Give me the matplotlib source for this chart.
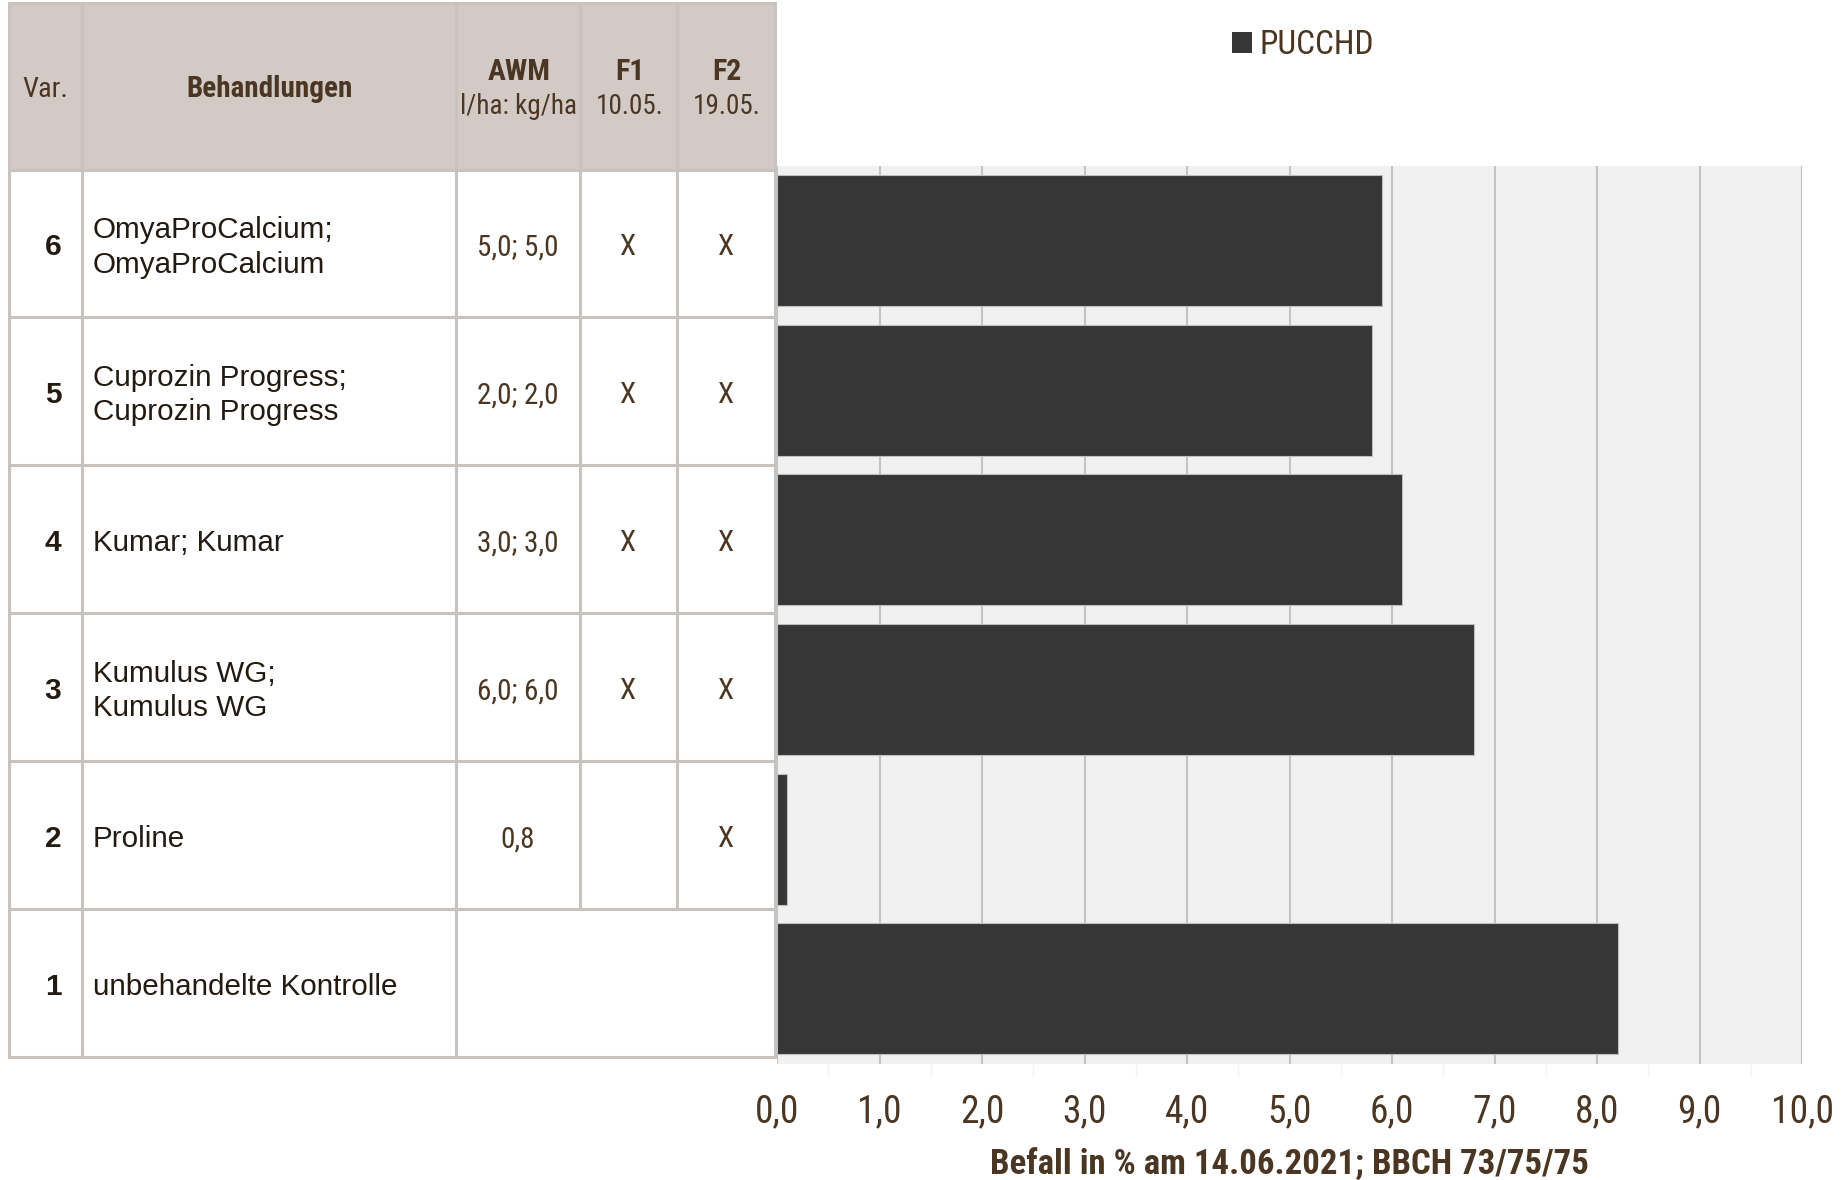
import matplotlib.pyplot as plt
from matplotlib.patches import Rectangle, Patch
from matplotlib.ticker import MultipleLocator, FuncFormatter

# Tabellen- und Balkendaten (von oben nach unten)
var_nr = ['6', '5', '4', '3', '2', '1']
behandlungen = ['OmyaProCalcium;\nOmyaProCalcium', 'Cuprozin Progress;\nCuprozin Progress',
                'Kumar; Kumar', 'Kumulus WG;\nKumulus WG', 'Proline', 'unbehandelte Kontrolle']
awm = ['5,0; 5,0', '2,0; 2,0', '3,0; 3,0', '6,0; 6,0', '0,8', '']
f1 = ['X', 'X', 'X', 'X', '', '']
f2 = ['X', 'X', 'X', 'X', 'X', '']
befall = [5.9, 5.8, 6.1, 6.8, 0.1, 8.2]
serie = 'PUCCHD'
x_ticks = [0, 1, 2, 3, 4, 5, 6, 7, 8, 9, 10]
x_label = 'Befall in % am 14.06.2021; BBCH 73/75/75'

narrow = ['Liberation Sans Narrow', 'Arial Narrow', 'Roboto Condensed', 'Archivo Narrow',
          'PT Sans Narrow', 'DejaVu Sans']
normal = ['Liberation Sans', 'Arimo', 'Arial', 'DejaVu Sans']
braun = '#4a3623'
dunkel = '#231a12'
linie = '#c9c3bf'
kopf_bg = '#d3cac6'

W, H = 1846, 1180
fig = plt.figure(figsize=(W / 100, H / 100), dpi=100)

# --- Diagramm ---
x0, x1 = 777, 1802
y0, y1 = 165.6, 1063.7
ax = fig.add_axes([x0 / W, 1 - y1 / H, (x1 - x0) / W, (y1 - y0) / H])
ax.set_facecolor('#f1f1f1')
pos = list(range(len(befall)))[::-1]
ax.barh(pos, befall, height=0.875, color='#363636', edgecolor='#bdbdbd', linewidth=0.8, zorder=3)
ax.set_xlim(0, 10)
ax.set_ylim(-0.5, 5.5)
ax.set_yticks([])
ax.set_xticks(x_ticks)
ax.xaxis.set_major_formatter(FuncFormatter(lambda v, p: f'{v:.1f}'.replace('.', ',')))
ax.xaxis.set_minor_locator(MultipleLocator(0.5))
ax.grid(axis='x', which='major', color='#c3c3c3', linewidth=1.5, zorder=1)
ax.tick_params(axis='x', which='major', length=0, pad=21, labelsize=27, labelcolor=braun)
ax.tick_params(axis='x', which='minor', length=9, color='#f3f3f3', width=1)
for lab in ax.get_xticklabels():
    lab.set_family(narrow)
for s in ax.spines.values():
    s.set_visible(False)
ax.set_xlabel(x_label, fontsize=25, fontweight='bold', color=braun, family=narrow, labelpad=13)

fig.legend(handles=[Patch(facecolor='#363636', label=serie)], loc='center',
           bbox_to_anchor=(1303 / W, 1 - 45 / H), frameon=False,
           handlelength=0.6, handleheight=0.6, handletextpad=0.25,
           prop={'family': narrow, 'size': 24}, labelcolor=braun)

# --- Tabelle ---
tx = fig.add_axes([0, 0, 1, 1], zorder=5)
tx.set_xlim(0, W)
tx.set_ylim(H, 0)
tx.axis('off')
tx.patch.set_alpha(0)

cols = [9, 82, 456, 580, 677, 775]
kopf_top, kopf_unten = 3, 169.5
zeile_h = (1057 - kopf_unten) / 6

tx.add_patch(Rectangle((cols[0], kopf_top), cols[-1] - cols[0], kopf_unten - kopf_top,
                       facecolor=kopf_bg, edgecolor='none'))
tx.add_patch(Rectangle((cols[0], kopf_unten), cols[-1] - cols[0], 6 * zeile_h,
                       facecolor='white', edgecolor='none'))

lw = 2.2
# horizontale Linien
for i in range(7):
    y = kopf_unten + i * zeile_h
    tx.plot([cols[0], cols[-1]], [y, y], color=linie, lw=lw)
tx.plot([cols[0], cols[-1]], [kopf_top, kopf_top], color=linie, lw=lw)
# vertikale Linien (letzte Zeile: AWM/F1/F2 zusammengefasst)
y_end = kopf_unten + 6 * zeile_h
for j, c in enumerate(cols):
    if j in (3, 4):
        tx.plot([c, c], [kopf_top, kopf_unten + 5 * zeile_h], color=linie, lw=lw)
    else:
        tx.plot([c, c], [kopf_top, y_end], color=linie, lw=lw)

mid = [(cols[k] + cols[k + 1]) / 2 for k in range(5)]
ym = (kopf_top + kopf_unten) / 2
tx.text(mid[0], ym + 3, 'Var.', ha='center', va='center', fontsize=20.5, color=braun, family=narrow)
tx.text(mid[1] + 1, ym + 3, 'Behandlungen', ha='center', va='center', fontsize=21,
        fontweight='bold', color=braun, family=narrow)
for k, (a, b) in zip([2, 3, 4], [('AWM', 'l/ha: kg/ha'), ('F1', '10.05.'), ('F2', '19.05.')]):
    tx.text(mid[k] + 1, 72, a, ha='center', va='center', fontsize=21.5, fontweight='bold',
            color=braun, family=narrow)
    tx.text(mid[k] + 1, 107, b, ha='center', va='center', fontsize=19.5, color=braun, family=narrow)

for i in range(6):
    yc = kopf_unten + (i + 0.5) * zeile_h + 4
    tx.text(53, yc, var_nr[i], ha='center', va='center', fontsize=21.5,
            fontweight='bold', color=dunkel, family=normal)
    tx.text(93, yc, behandlungen[i], ha='left', va='center', fontsize=21.3,
            color=dunkel, family=normal, linespacing=1.28)
    tx.text(mid[2], yc, awm[i], ha='center', va='center', fontsize=21, color=braun, family=narrow)
    tx.text(mid[3] - 1, yc, f1[i], ha='center', va='center', fontsize=21, color=braun, family=narrow)
    tx.text(mid[4] - 1, yc, f2[i], ha='center', va='center', fontsize=21, color=braun, family=narrow)

fig.savefig('out.png', dpi=100)
